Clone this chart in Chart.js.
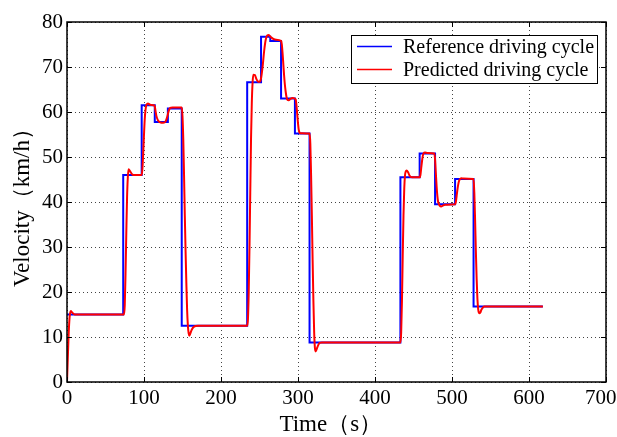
<!DOCTYPE html>
<html lang="en">
<head>
<meta charset="UTF-8">
<title>Driving cycle</title>
<script src="https://cdn.jsdelivr.net/npm/chart.js@4/dist/chart.umd.min.js"></script>
<style>
  html, body { margin: 0; padding: 0; background: #fff; }
  canvas { display: block; }
</style>
</head>
<body>
<canvas id="myChart" width="617" height="437"></canvas>
<script>
// Reference driving cycle: step changes (time in s, velocity in km/h)
const refTime  = [0, 73, 97, 114, 131, 149, 234, 252, 264, 278, 296, 315, 433, 458, 478, 504, 528, 618];
const refSpeed = [15, 46, 61.5, 57.8, 60.8, 12.5, 66.6, 76.7, 75.8, 63, 55.2, 8.8, 45.5, 50.8, 39.5, 45.1, 16.8, 16.8];

// Predicted driving cycle
const predTime = [0, 1, 2, 3, 4, 5, 6, 8, 10, 74, 75, 76, 77, 78, 79, 80, 82, 85, 88,
  97, 98, 99, 100, 101, 102, 103, 105, 108, 113, 114, 115, 116, 118, 121, 125, 128, 130, 132, 134, 137,
  149, 150, 151, 152, 153, 154, 155, 156, 157, 158, 159, 160, 162, 165, 170,
  234, 235, 236, 237, 238, 239, 240, 241, 242, 244, 246, 248, 250, 252, 254, 256, 258, 260, 262, 265, 270,
  278, 279, 280, 281, 282, 283, 284, 285, 286, 288, 290, 293, 297, 298, 299, 300, 301, 303,
  315, 316, 317, 318, 319, 320, 321, 322, 323, 324, 326, 328, 331,
  433, 434, 435, 436, 437, 438, 439, 440, 441, 443, 445, 448,
  458, 459, 460, 461, 462, 463, 465, 468, 477, 478, 479, 480, 481, 482, 484, 486, 488, 491,
  504, 505, 506, 507, 508, 509, 510, 512, 515,
  528, 529, 530, 531, 532, 533, 534, 535, 536, 537, 538, 540, 542, 545, 618];
const predSpeed = [0, 5, 10, 13.5, 15.3, 15.8, 15.6, 15.2, 15, 15, 17, 24, 33, 41, 45.5, 47.3, 46.8, 46.1, 46,
  46, 47.5, 51, 55, 58.5, 60.5, 61.5, 61.9, 61.6, 61.5, 61.2, 60.2, 59.2, 58.2, 57.7, 57.6, 57.9, 58.8, 60.2, 60.9, 61,
  61, 59, 54, 46, 37, 29, 22, 16, 12.5, 10.8, 10.3, 10.7, 11.6, 12.3, 12.5,
  12.5, 14, 20, 30, 42, 54, 62, 66.5, 68.3, 68.2, 67.3, 66.8, 66.7, 67.5, 70, 73.5, 76, 77, 77.1, 76.6, 76.1,
  75.8, 75, 73, 70.5, 68, 66, 64.5, 63.4, 62.8, 62.6, 62.9, 63.1, 62.8, 61.5, 59.5, 57.5, 56, 55.3,
  55.2, 53, 46, 37, 27, 18, 11, 7.5, 6.8, 7.2, 8.1, 8.7, 8.8,
  8.8, 11, 18, 28, 37, 43, 46, 46.8, 47, 46.6, 45.8, 45.5,
  45.5, 46, 47.5, 49, 50.2, 50.8, 51, 50.9, 50.8, 49.5, 46.5, 43.5, 41.3, 40, 39.2, 39, 39.2, 39.4,
  39.5, 40, 41.3, 42.7, 43.8, 44.6, 45, 45.3, 45.2,
  45.1, 42, 36, 29, 23, 18.5, 16.2, 15.4, 15.3, 15.5, 16, 16.5, 16.8, 16.8, 16.8];

const xTicks = [0, 100, 200, 300, 400, 500, 600, 700];
const yTicks = [0, 10, 20, 30, 40, 50, 60, 70, 80];
const seriesNames = ['Reference driving cycle', 'Predicted driving cycle'];
const seriesColors = ['#0000ff', '#ff0000'];

const serif = "'Liberation Serif', 'Times New Roman', serif";
Chart.defaults.font.family = serif;
Chart.defaults.color = '#000';

// Box, inward ticks and legend drawn on top like the Matlab figure
const framePlugin = {
  id: 'frame',
  afterDraw(chart) {
    const { ctx, chartArea: a, scales } = chart;
    ctx.save();
    ctx.strokeStyle = '#000';
    ctx.lineWidth = 1;
    xTicks.forEach(v => {
      const px = Math.round(scales.x.getPixelForValue(v)) + 0.5;
      ctx.beginPath();
      ctx.moveTo(px, a.bottom); ctx.lineTo(px, a.bottom - 5);
      ctx.moveTo(px, a.top); ctx.lineTo(px, a.top + 5);
      ctx.stroke();
    });
    yTicks.forEach(v => {
      const py = Math.round(scales.y.getPixelForValue(v)) + 0.5;
      ctx.beginPath();
      ctx.moveTo(a.left, py); ctx.lineTo(a.left + 5, py);
      ctx.moveTo(a.right, py); ctx.lineTo(a.right - 5, py);
      ctx.stroke();
    });
    ctx.lineWidth = 1.5;
    ctx.strokeRect(a.left, a.top, a.right - a.left, a.bottom - a.top);

    // legend
    const lx = 351, ly = 35, lw = 246, lh = 48;
    ctx.fillStyle = '#fff';
    ctx.fillRect(lx, ly, lw, lh);
    ctx.lineWidth = 1;
    ctx.strokeRect(lx + 0.5, ly + 0.5, lw, lh);
    ctx.font = '20px ' + serif;
    ctx.textBaseline = 'middle';
    seriesNames.forEach((name, i) => {
      const y = ly + 11.5 + i * 23;
      ctx.strokeStyle = seriesColors[i];
      ctx.lineWidth = 1.5;
      ctx.beginPath();
      ctx.moveTo(lx + 6, y); ctx.lineTo(lx + 41, y);
      ctx.stroke();
      ctx.fillStyle = '#000';
      ctx.fillText(name, lx + 52, y + 1);
    });
    ctx.restore();
  }
};

const ctx = document.getElementById('myChart').getContext('2d');
new Chart(ctx, {
  type: 'line',
  data: {
    datasets: [{
      label: seriesNames[0],
      data: refTime.map((t, i) => ({ x: t, y: refSpeed[i] })),
      borderColor: seriesColors[0],
      borderWidth: 2,
      stepped: 'before',
      pointRadius: 0,
      order: 2
    }, {
      label: seriesNames[1],
      data: predTime.map((t, i) => ({ x: t, y: predSpeed[i] })),
      borderColor: seriesColors[1],
      borderWidth: 2,
      cubicInterpolationMode: 'monotone',
      pointRadius: 0,
      order: 1
    }]
  },
  options: {
    responsive: false,
    animation: false,
    devicePixelRatio: 1,
    layout: { padding: { top: 22, right: 11, left: 0, bottom: 0 } },
    plugins: { legend: { display: false }, tooltip: { enabled: false } },
    scales: {
      x: {
        type: 'linear', min: 0, max: 700,
        afterFit: s => { s.height = 55; s.paddingLeft = 0; s.paddingRight = 0; },
        afterBuildTicks: s => { s.ticks = xTicks.map(v => ({ value: v })); },
        // last label is pushed left so it stays inside the figure
        ticks: { font: { size: 21 }, padding: 4, maxRotation: 0,
                 callback: v => v === 700 ? '700\u2002' : String(v) },
        grid: { color: '#444', lineWidth: 1, drawTicks: false },
        border: { display: false, dash: [1, 3] },
        title: { display: true, text: 'Time（s）\u2002', font: { size: 23, lineHeight: 1 }, padding: { top: 0, bottom: 1 } }
      },
      y: {
        min: 0, max: 80,
        afterFit: s => { s.width = 67; s.paddingTop = 0; s.paddingBottom = 0; },
        afterBuildTicks: s => { s.ticks = yTicks.map(v => ({ value: v })); },
        ticks: { font: { size: 21 }, padding: 4 },
        grid: { color: '#444', lineWidth: 1, drawTicks: false },
        border: { display: false, dash: [1, 3] },
        title: { display: true, text: 'Velocity（km/h）', font: { size: 23, lineHeight: 1 }, padding: { top: 11, bottom: 0 } }
      }
    }
  },
  plugins: [framePlugin]
});
</script>
</body>
</html>
